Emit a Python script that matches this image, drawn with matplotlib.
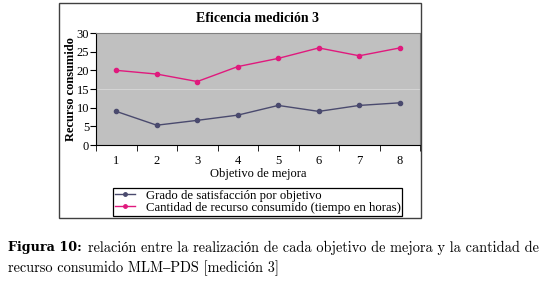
import numpy as np
import matplotlib.pyplot as plt
from matplotlib.lines import Line2D
from matplotlib.patches import Rectangle

# data
objetivos = [1, 2, 3, 4, 5, 6, 7, 8]
satisfaccion = [9.0, 5.3, 6.6, 8.0, 10.6, 9.0, 10.6, 11.3]
recurso = [20.0, 19.0, 17.0, 21.0, 23.2, 26.0, 23.9, 26.0]
y_ticks = [0, 5, 10, 15, 20, 25, 30]

serif = ['Liberation Serif', 'DejaVu Serif']
cm = ['cmr10', 'Liberation Serif']

c_sat = '#4a4a6e'
c_rec = '#e0197d'

fig = plt.figure(figsize=(5.47, 2.91), dpi=100)
W, H = 547, 291

def fx(px):
    return px / W

def fy(py):
    return 1 - py / H

# outer chart frame
frame = Rectangle((fx(59), fy(218)), fx(421) - fx(59), fy(3) - fy(218),
                  transform=fig.transFigure, fill=False, edgecolor='#404040', linewidth=1.0)
fig.patches.append(frame)

ax = fig.add_axes([fx(96), fy(145), fx(420) - fx(96), fy(33) - fy(145)])
ax.set_facecolor('#c0c0c0')
ax.axhline(15, color='#d8d8d8', linewidth=0.6, zorder=1)

ax.plot(objetivos, satisfaccion, color=c_sat, marker='o', markersize=3, linewidth=1.0, zorder=3)
ax.plot(objetivos, recurso, color=c_rec, marker='o', markersize=3, linewidth=1.0, zorder=3)

ax.set_xlim(0.5, 8.5)
ax.set_ylim(0, 30)
ax.set_yticks(y_ticks)
ax.set_xticks(objetivos)
ax.set_xticks(np.arange(0.5, 9, 1), minor=True)
ax.tick_params(axis='x', which='major', length=0, pad=7)
ax.tick_params(axis='x', which='minor', length=4, direction='out', color='black')
ax.tick_params(axis='y', length=4, direction='out', pad=1)
for lab in ax.get_xticklabels() + ax.get_yticklabels():
    lab.set_family(serif)
    lab.set_fontsize(9)

ax.spines['left'].set_color('black')
ax.spines['bottom'].set_color('black')
ax.spines['top'].set_color('#808080')
ax.spines['right'].set_color('#808080')

ax.set_title('Eficencia medición 3', family=serif, fontsize=10, fontweight='bold', pad=8)
ax.set_ylabel('Recurso consumido', family=serif, fontsize=9, fontweight='bold', labelpad=0)
ax.set_xlabel('Objetivo de mejora', family=serif, fontsize=9, labelpad=1)

handles = [Line2D([], [], color=c_sat, marker='o', markersize=2.5, linewidth=1.0),
           Line2D([], [], color=c_rec, marker='o', markersize=2.5, linewidth=1.0)]
labels = ['Grado de satisfacción por objetivo',
          'Cantidad de recurso consumido (tiempo en horas)']
leg = fig.legend(handles, labels, loc='upper left', bbox_to_anchor=(fx(113), fy(188)),
                 prop={'family': serif, 'size': 9.2}, frameon=True, fancybox=False,
                 edgecolor='black', framealpha=1, handlelength=1.6, handletextpad=0.8,
                 borderpad=0.15, labelspacing=0.0, borderaxespad=0)
leg.get_frame().set_linewidth(0.9)

# caption below the chart
fig.text(fx(8), fy(248), 'Figura 10:', family=['DejaVu Serif'], fontweight='bold',
         fontsize=9.2, va='center', ha='left')
fig.text(fx(88), fy(248), 'relación entre la realización de cada objetivo de mejora y la cantidad de',
         family=cm, fontsize=10.3, va='center', ha='left')
fig.text(fx(8), fy(268), 'recurso consumido MLM\u2013PDS [medición 3]',
         family=cm, fontsize=10.3, va='center', ha='left')

fig.savefig('out.png', dpi=100)
